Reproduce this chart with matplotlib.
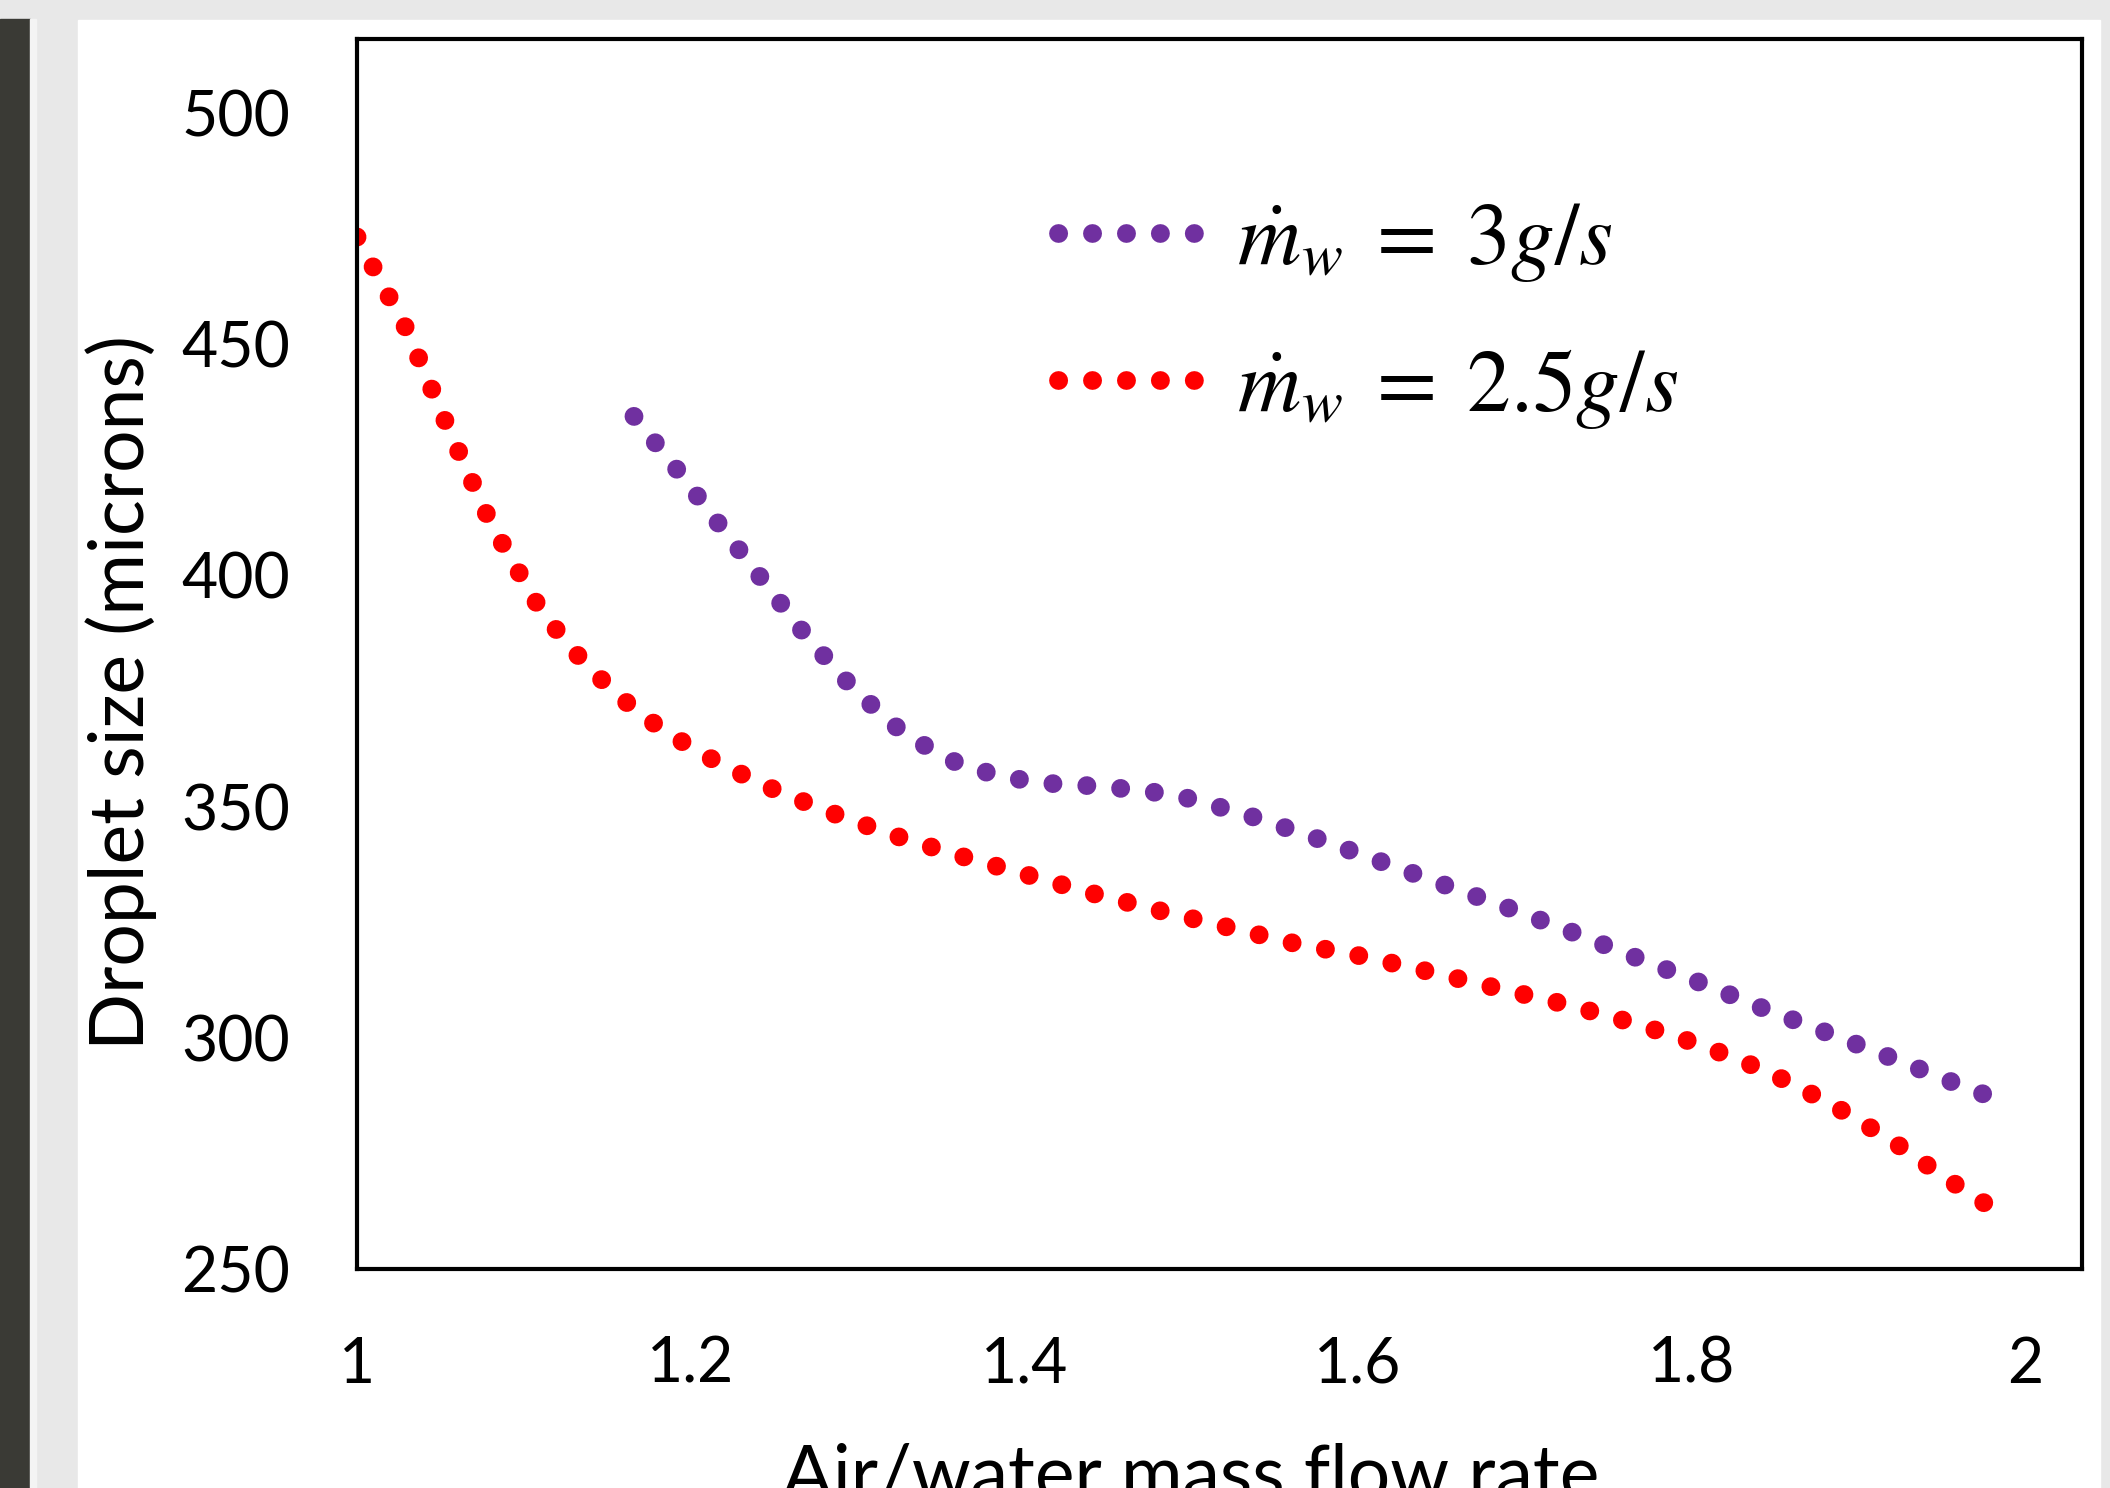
import matplotlib
matplotlib.use('Agg')
from matplotlib import pyplot as plt
from matplotlib.patches import Rectangle

# air/water mass flow ratio and droplet size (microns)
x_25 = [1.0, 1.03, 1.054, 1.08, 1.111, 1.138, 1.169, 1.204, 1.242, 1.281,
        1.319, 1.36, 1.4, 1.44, 1.481, 1.521, 1.561, 1.603, 1.645, 1.685,
        1.726, 1.767, 1.806, 1.845, 1.883, 1.919, 1.953, 1.989]
d_25 = [473.2, 453.0, 432.4, 411.4, 391.9, 380.3, 370.1, 361.9, 354.9, 349.1,
        344.1, 339.5, 335.4, 331.3, 327.5, 324.0, 320.5, 317.6, 314.1, 310.6,
        307.1, 303.0, 298.4, 292.8, 285.8, 278.0, 269.5, 261.1]

x_3 = [1.166, 1.192, 1.218, 1.244, 1.269, 1.298, 1.329, 1.365, 1.406, 1.449,
       1.49, 1.531, 1.57, 1.61, 1.65, 1.69, 1.728, 1.767, 1.806, 1.844,
       1.884, 1.923, 1.962, 1.981]
d_3 = [434.4, 422.8, 410.6, 398.6, 387.0, 375.3, 365.4, 358.4, 355.2, 354.3,
       352.6, 348.5, 343.8, 338.6, 333.3, 328.1, 322.9, 317.3, 311.8, 306.2,
       300.7, 295.2, 289.6, 287.0]

x_ticks = [1, 1.2, 1.4, 1.6, 1.8, 2]
x_ticklabels = ['1', '1.2', '1.4', '1.6', '1.8', '2']
y_ticks = [250, 300, 350, 400, 450, 500]

label_3 = r'$\dot{m}_w\;=\;3g/s$'
label_25 = r'$\dot{m}_w\;=\;2.5g/s$'

plt.rcParams['font.family'] = ['Lato', 'DejaVu Sans']
plt.rcParams['mathtext.fontset'] = 'stix'

W, H = 2110, 1488
fig = plt.figure(figsize=(W / 100, H / 100), dpi=100, facecolor='#e8e8e8')

# screenshot surroundings: white panel, dark photo strip on the left
fig.patches.append(Rectangle((78 / W, 0), (2100 - 78) / W, (H - 20) / H,
                             transform=fig.transFigure, color='white', zorder=-10))
fig.patches.append(Rectangle((0, 0), 30 / W, (H - 19) / H,
                             transform=fig.transFigure, color='#3a3a35', zorder=-10))
fig.patches.append(Rectangle((30 / W, 0), 6 / W, (H - 19) / H,
                             transform=fig.transFigure, color='#f4f4f4', zorder=-10))

ax = fig.add_axes([357 / W, (H - 1269) / H, 1725 / W, 1230 / H])
ax.set_facecolor('white')

dot = dict(linewidth=13.5, linestyle=(0, (0.01, 1.8)), dash_capstyle='round')
ax.plot(x_3, d_3, color='#7030a0', label=label_3, **dot)
ax.plot(x_25, d_25, color='#ff0000', label=label_25, **dot)

ax.set_xlim(1, 2.034)
ax.set_ylim(250, 516)
ax.set_xticks(x_ticks)
ax.set_xticklabels(x_ticklabels)
ax.set_yticks(y_ticks)
ax.tick_params(length=0, labelsize=45, pad=48)
for s in ax.spines.values():
    s.set_linewidth(3)

fig.text(121 / W, 1 - 693 / H, 'Droplet size (microns)', rotation=90,
         ha='center', va='center', fontsize=54)
fig.text(1191 / W, 1 - 1443 / H, 'Air/water mass flow rate',
         ha='center', va='top', fontsize=54)

ax.legend(loc='upper left', bbox_to_anchor=(0.381, 0.905), frameon=False,
          fontsize=63, handlelength=1.6, handletextpad=0.45, labelspacing=0.72,
          borderpad=0)

fig.savefig('out.png', dpi=100, facecolor=fig.get_facecolor())
